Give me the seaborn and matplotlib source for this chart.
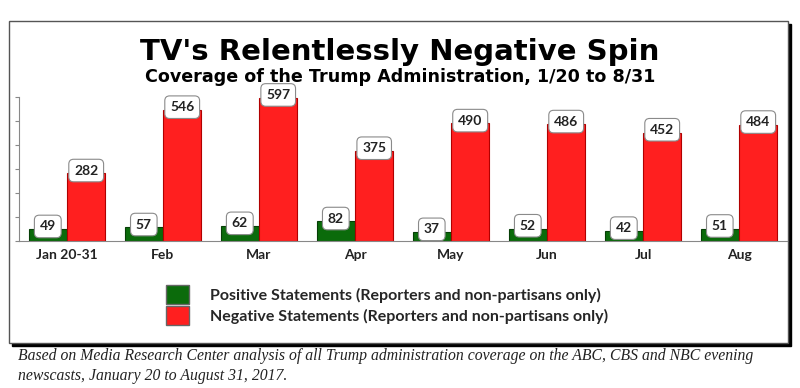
import pandas as pd
import matplotlib.pyplot as plt
import seaborn as sns
from matplotlib.patches import Rectangle

months = ["Jan 20-31", "Feb", "Mar", "Apr", "May", "Jun", "Jul", "Aug"]
positive = [49, 57, 62, 82, 37, 52, 42, 51]
negative = [282, 546, 597, 375, 490, 486, 452, 484]
series = ["Positive Statements (Reporters and non-partisans only)",
          "Negative Statements (Reporters and non-partisans only)"]

df = pd.DataFrame({
    "Mes": months * 2,
    "Valor": positive + negative,
    "Serie": [series[0]] * len(months) + [series[1]] * len(months),
})

sns.set_style("white")
plt.rcParams["font.family"] = ["Lato", "DejaVu Sans"]

fig = plt.figure(figsize=(8, 3.88), dpi=100)

# marco con sombra
px = lambda x, y: (x / 800, 1 - y / 388)
x0, y0 = px(9, 343)
x1, y1 = px(788, 21)
sombra = Rectangle((x0 + 3 / 800, y0 - 3 / 388), x1 - x0, y1 - y0, transform=fig.transFigure,
                   fc="black", ec="black", zorder=-2)
marco = Rectangle((x0, y0), x1 - x0, y1 - y0, transform=fig.transFigure,
                  fc="white", ec="#555555", lw=1, zorder=-1)
fig.patches.extend([sombra, marco])

ax = fig.add_axes([19 / 800, 1 - 241 / 388, 768 / 800, 144 / 388])
ax.set_zorder(2)
ax.patch.set_alpha(0)
sns.barplot(data=df, x="Mes", y="Valor", hue="Serie", palette=["#0b6b0b", "#ff1f1f"],
            width=0.8, saturation=1, ax=ax, legend=True)

for cont, ec in zip(ax.containers, ["#063f06", "#b00000"]):
    for bar, val in zip(cont, cont.datavalues):
        bar.set_edgecolor(ec)
        bar.set_linewidth(0.8)
        ax.annotate(f"{val:.0f}", (bar.get_x() + bar.get_width() / 2, bar.get_height()),
                    xytext=(0, 2), textcoords="offset points", ha="center", va="center",
                    fontsize=10, fontweight="bold", color="#222222", annotation_clip=False,
                    bbox=dict(boxstyle="round,pad=0.38,rounding_size=0.35", fc="white",
                              ec="#8a8a8a", lw=0.8))

ax.set_ylim(0, 600)
ax.set_xlim(-0.5, 7.5)
ax.set_yticks(range(0, 700, 100))
ax.set_yticklabels([])
ax.set_xlabel("")
ax.set_ylabel("")
ax.tick_params(axis="y", direction="out", length=3, color="#888888", width=0.8, left=True)
ax.tick_params(axis="x", length=0, pad=6, labelsize=10)
for lbl in ax.get_xticklabels():
    lbl.set_fontweight("bold")
    lbl.set_color("#222222")
for s in ["top", "right"]:
    ax.spines[s].set_visible(False)
for s in ["left", "bottom"]:
    ax.spines[s].set_color("#888888")
    ax.spines[s].set_linewidth(0.8)

handles, labels = ax.get_legend_handles_labels()
ax.get_legend().remove()
for h in handles:
    h.set_edgecolor("#666666")
fig.legend(handles, labels, loc="upper left", bbox_to_anchor=(152 / 800, 1 - 271 / 388),
           frameon=False, handlelength=1.4, handleheight=1.4, handletextpad=1.3,
           labelspacing=0.15, prop={"family": ["Lato", "DejaVu Sans"], "weight": "bold", "size": 11.5})

fig.text(0.5, 1 - 52 / 388, "TV's Relentlessly Negative Spin", ha="center", va="center",
         fontsize=21, fontweight="bold", family="DejaVu Sans", color="black")
fig.text(0.5, 1 - 77 / 388, "Coverage of the Trump Administration, 1/20 to 8/31", ha="center",
         va="center", fontsize=12.6, fontweight="bold", family="DejaVu Sans", color="black")

fig.text(18 / 800, 1 - 366 / 388,
         "Based on Media Research Center analysis of all Trump administration coverage on the ABC, CBS and NBC evening\n"
         "newscasts, January 20 to August 31, 2017.",
         ha="left", va="center", fontsize=11.3, style="italic", family="Liberation Serif",
         color="#222222", linespacing=1.3)

fig.savefig("out.png", dpi=100)
